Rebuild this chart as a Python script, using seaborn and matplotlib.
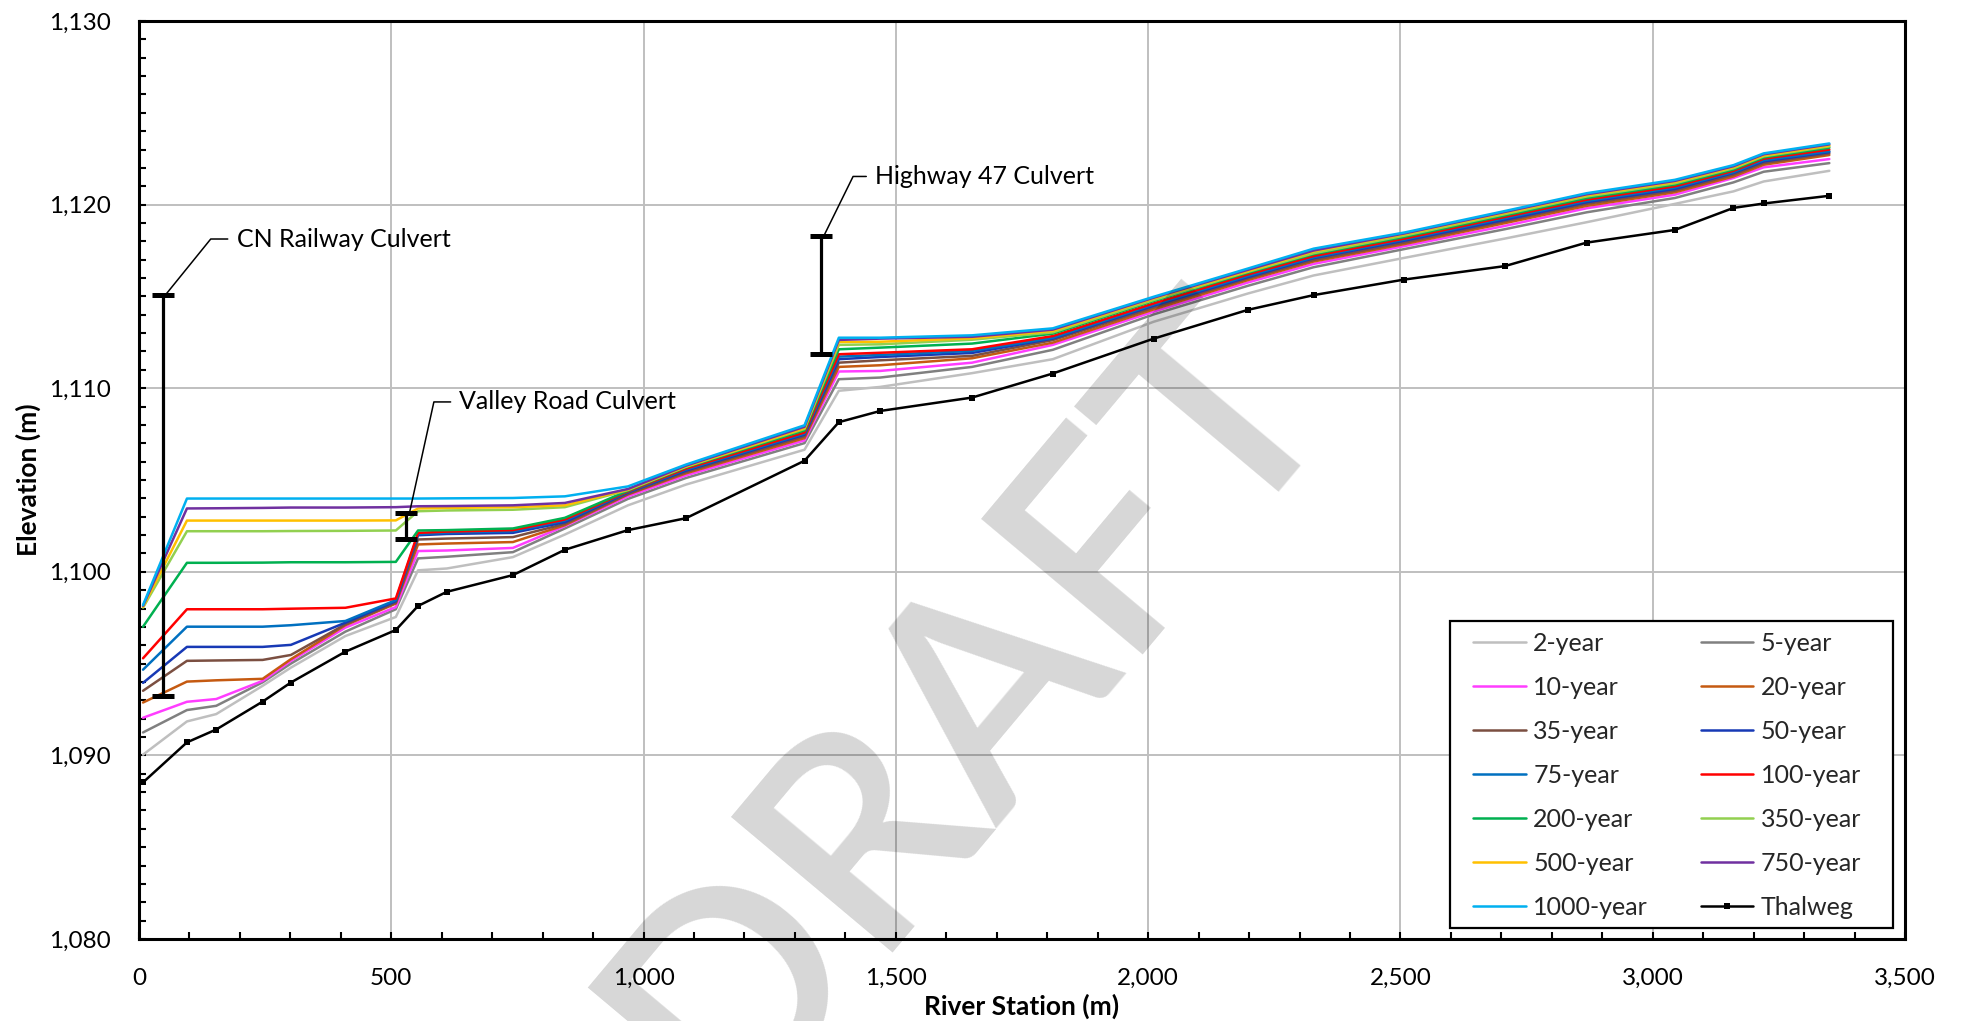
import numpy as np
import pandas as pd
import matplotlib
matplotlib.use("Agg")
import matplotlib.pyplot as plt
from matplotlib.ticker import MultipleLocator, FuncFormatter
from matplotlib.lines import Line2D
from matplotlib.patches import Rectangle
from matplotlib.transforms import IdentityTransform
import seaborn as sns

# River stations (m) of the computed cross sections
stations = [8, 95, 153, 245, 301, 409, 509, 553, 610, 741, 844, 969, 1084, 1319,
            1387, 1469, 1651, 1811, 2011, 2198, 2328, 2508, 2707, 2869, 3044, 3160, 3220, 3350]

# Water surface elevations (m) for each return period
wse_2 = [1090.04, 1091.85, 1092.25, 1093.79, 1094.78, 1096.50, 1097.54, 1100.08, 1100.18, 1100.80,
         1102.03, 1103.62, 1104.75, 1106.65, 1109.86, 1110.07, 1110.82, 1111.58, 1113.62, 1115.16,
         1116.14, 1117.10, 1118.15, 1119.04, 1120.04, 1120.72, 1121.26, 1121.84]
wse_5 = [1091.25, 1092.47, 1092.70, 1093.98, 1095.00, 1096.74, 1097.96, 1100.73, 1100.82, 1101.07,
         1102.36, 1103.97, 1105.11, 1107.01, 1110.49, 1110.58, 1111.16, 1112.09, 1114.02, 1115.58,
         1116.59, 1117.58, 1118.66, 1119.58, 1120.36, 1121.21, 1121.79, 1122.26]
wse_10 = [1092.05, 1092.92, 1093.07, 1094.06, 1095.15, 1096.96, 1098.08, 1101.13, 1101.16, 1101.30,
          1102.49, 1104.11, 1105.25, 1107.16, 1110.91, 1110.94, 1111.39, 1112.36, 1114.17, 1115.76,
          1116.77, 1117.74, 1118.84, 1119.80, 1120.54, 1121.45, 1122.03, 1122.48]
wse_20 = [1092.88, 1094.02, 1094.09, 1094.17, 1095.24, 1097.09, 1098.27, 1101.49, 1101.54, 1101.62,
          1102.54, 1104.21, 1105.36, 1107.28, 1111.16, 1111.25, 1111.63, 1112.48, 1114.29, 1115.89,
          1116.90, 1117.85, 1118.99, 1119.93, 1120.67, 1121.53, 1122.17, 1122.70]
wse_35 = [1093.52, 1095.15, 1095.17, 1095.20, 1095.47, 1097.14, 1098.32, 1101.76, 1101.81, 1101.89,
          1102.61, 1104.24, 1105.43, 1107.38, 1111.39, 1111.52, 1111.76, 1112.62, 1114.39, 1115.98,
          1116.98, 1117.93, 1119.09, 1120.04, 1120.76, 1121.63, 1122.26, 1122.79]
wse_50 = [1093.95, 1095.91, 1095.91, 1095.91, 1096.02, 1097.23, 1098.40, 1101.99, 1102.06, 1102.12,
          1102.70, 1104.32, 1105.51, 1107.47, 1111.58, 1111.70, 1111.92, 1112.70, 1114.49, 1116.05,
          1117.08, 1118.03, 1119.17, 1120.13, 1120.85, 1121.72, 1122.35, 1122.86]
wse_75 = [1094.67, 1097.01, 1097.01, 1097.01, 1097.09, 1097.32, 1098.46, 1102.05, 1102.14, 1102.21,
          1102.79, 1104.35, 1105.57, 1107.53, 1111.72, 1111.81, 1112.03, 1112.75, 1114.56, 1116.12,
          1117.13, 1118.10, 1119.26, 1120.20, 1120.93, 1121.77, 1122.42, 1122.91]
wse_100 = [1095.29, 1097.96, 1097.96, 1097.96, 1097.99, 1098.04, 1098.55, 1102.12, 1102.19, 1102.27,
           1102.85, 1104.38, 1105.62, 1107.59, 1111.85, 1111.93, 1112.12, 1112.84, 1114.62, 1116.20,
           1117.20, 1118.15, 1119.33, 1120.27, 1121.00, 1121.84, 1122.50, 1123.00]
wse_200 = [1097.01, 1100.49, 1100.49, 1100.50, 1100.52, 1100.52, 1100.54, 1102.25, 1102.27, 1102.36,
           1102.94, 1104.42, 1105.69, 1107.70, 1112.12, 1112.21, 1112.43, 1112.97, 1114.75, 1116.29,
           1117.30, 1118.24, 1119.41, 1120.36, 1121.09, 1121.91, 1122.57, 1123.10]
wse_350 = [1098.05, 1102.21, 1102.21, 1102.21, 1102.22, 1102.23, 1102.25, 1103.30, 1103.34, 1103.38,
           1103.52, 1104.45, 1105.72, 1107.78, 1112.36, 1112.39, 1112.64, 1113.04, 1114.80, 1116.34,
           1117.35, 1118.31, 1119.48, 1120.44, 1121.16, 1121.98, 1122.63, 1123.17]
wse_500 = [1098.10, 1102.79, 1102.79, 1102.79, 1102.79, 1102.79, 1102.80, 1103.45, 1103.48, 1103.52,
           1103.62, 1104.48, 1105.74, 1107.83, 1112.52, 1112.53, 1112.72, 1113.12, 1114.89, 1116.39,
           1117.45, 1118.39, 1119.55, 1120.51, 1121.23, 1122.04, 1122.68, 1123.22]
wse_750 = [1098.15, 1103.45, 1103.46, 1103.48, 1103.50, 1103.50, 1103.52, 1103.57, 1103.58, 1103.62,
           1103.75, 1104.51, 1105.78, 1107.90, 1112.63, 1112.70, 1112.80, 1113.19, 1114.93, 1116.45,
           1117.50, 1118.43, 1119.60, 1120.56, 1121.29, 1122.09, 1122.74, 1123.28]
wse_1000 = [1098.19, 1103.99, 1103.99, 1103.99, 1103.99, 1103.99, 1103.99, 1103.99, 1104.00, 1104.02,
            1104.11, 1104.65, 1105.84, 1107.98, 1112.75, 1112.75, 1112.88, 1113.26, 1114.98, 1116.52,
            1117.60, 1118.48, 1119.65, 1120.62, 1121.35, 1122.15, 1122.79, 1123.33]

# Channel bed (thalweg) elevation (m)
thalweg = [1088.53, 1090.71, 1091.41, 1092.93, 1093.97, 1095.65, 1096.83, 1098.14, 1098.91, 1099.82,
           1101.20, 1102.27, 1102.92, 1106.05, 1108.15, 1108.76, 1109.49, 1110.80, 1112.70, 1114.27,
           1115.07, 1115.92, 1116.65, 1117.93, 1118.62, 1119.82, 1120.06, 1120.48]

events = ["2-year", "5-year", "10-year", "20-year", "35-year", "50-year", "75-year",
          "100-year", "200-year", "350-year", "500-year", "750-year", "1000-year"]
profiles = [wse_2, wse_5, wse_10, wse_20, wse_35, wse_50, wse_75,
            wse_100, wse_200, wse_350, wse_500, wse_750, wse_1000]
colors = ["#bfbfbf", "#808080", "#ff3dff", "#c55a11", "#7b4f41", "#1739b5", "#0070c0",
          "#ff0000", "#00b050", "#92d050", "#ffc000", "#7030a0", "#00b0f0"]

# Culvert crossings: station, invert and obvert elevations
culvert_names = ["CN Railway Culvert", "Valley Road Culvert", "Highway 47 Culvert"]
culvert_station = [47, 530, 1351]
culvert_bottom = [1093.25, 1101.80, 1111.85]
culvert_top = [1115.10, 1103.20, 1118.28]

FONT = ["Lato", "DejaVu Sans"]
sns.set_theme(style="white")
plt.rcParams["font.family"] = FONT

W, H = 1963, 1021
fig, ax = plt.subplots(figsize=(W / 100, H / 100), dpi=100)
fig.subplots_adjust(left=139 / W, right=1905 / W, bottom=1 - 939 / H, top=1 - 21 / H)

long = pd.DataFrame(
    [(ev, s, e) for ev, vals in zip(events, profiles) for s, e in zip(stations, vals)],
    columns=["event", "station", "elev"],
)
sns.lineplot(data=long, x="station", y="elev", hue="event", hue_order=events,
             palette=dict(zip(events, colors)), sort=False, estimator=None,
             linewidth=1.8, legend=False, ax=ax, zorder=3)

bed = pd.DataFrame({"station": stations, "elev": thalweg})
sns.lineplot(data=bed, x="station", y="elev", color="black", sort=False, estimator=None,
             linewidth=1.8, marker="s", markersize=4.5, markeredgewidth=0,
             legend=False, ax=ax, zorder=4)

# Culvert openings with leader-line labels
offsets = [(51, 40), (36, 80), (37, 43)]
angles = [51, 77.6, 63.8]
for name, xs, lo, hi, off, ang in zip(culvert_names, culvert_station, culvert_bottom,
                                      culvert_top, offsets, angles):
    mid = (lo + hi) / 2
    ax.errorbar([xs], [mid], yerr=[[mid - lo], [hi - mid]], fmt="none", ecolor="black",
                elinewidth=2.3, capsize=8, capthick=3.6, zorder=6)
    ax.annotate(name, xy=(xs + 6, hi), xycoords="data", xytext=off,
                textcoords="offset points", ha="left", va="center", fontsize=18,
                color="black", zorder=7,
                arrowprops=dict(arrowstyle="-", color="black", lw=1.1, shrinkA=4,
                                shrinkB=0, relpos=(0, 0.5),
                                connectionstyle=f"angle,angleA=180,angleB={ang},rad=0"))

ax.set_xlim(0, 3500)
ax.set_ylim(1080, 1130)
ax.xaxis.set_major_locator(MultipleLocator(500))
ax.xaxis.set_minor_locator(MultipleLocator(100))
ax.yaxis.set_major_locator(MultipleLocator(10))
ax.yaxis.set_minor_locator(MultipleLocator(1))
fmt = FuncFormatter(lambda v, p: f"{v:,.0f}")
ax.xaxis.set_major_formatter(fmt)
ax.yaxis.set_major_formatter(fmt)
ax.tick_params(which="both", direction="in", length=5, width=1.5, color="black",
               left=True, bottom=True, right=False, top=False)
ax.tick_params(axis="y", which="major", labelsize=17.5, pad=20, labelcolor="black")
ax.tick_params(axis="x", which="major", labelsize=17.5, pad=21, labelcolor="black")

ax.grid(True, which="major", color="#bfbfbf", linewidth=1.4)
ax.set_axisbelow(True)
for sp in ax.spines.values():
    sp.set_color("black")
    sp.set_linewidth(2.2)
    sp.set_visible(True)

ax.set_xlabel("River Station (m)", fontsize=19, fontweight="bold", labelpad=3, color="black")
ax.set_ylabel("Elevation (m)", fontsize=19, fontweight="bold", labelpad=6, color="black")

# Legend laid out row by row in two columns
handles = [Line2D([], [], color=c, lw=1.8) for c in colors]
handles.append(Line2D([], [], color="black", lw=1.8, marker="s", markersize=4.5,
                      markeredgewidth=0))
labels = events + ["Thalweg"]
order = list(range(0, 14, 2)) + list(range(1, 14, 2))
ax_w, ax_h = 1905 - 139, 939 - 21
leg = ax.legend([handles[i] for i in order], [labels[i] for i in order], ncol=2,
                loc="lower right",
                bbox_to_anchor=((1893 - 32 - 139) / ax_w, (939 - 928 + 9) / ax_h),
                borderaxespad=0, borderpad=0, frameon=False,
                fontsize=18, handlelength=2.1, handletextpad=0.3, columnspacing=2.1,
                labelspacing=0.84)
leg.set_zorder(9)

# Legend box drawn around the entries with wider side margins
fig.canvas.draw()
bb = leg.get_window_extent()
box = Rectangle((bb.x0 - 23, bb.y0 - 9), bb.width + 23 + 32, bb.height + 20,
                transform=IdentityTransform(), facecolor="white", edgecolor="black",
                linewidth=1.6, zorder=8, clip_on=False)
ax.add_patch(box)

# Watermark
fig.text(968 / W, 1 - 704 / H, "DRAFT", rotation=50, rotation_mode="anchor",
         ha="center", va="center", fontsize=212, fontweight=600, color="black",
         alpha=0.16, zorder=20)

fig.savefig("out.png", dpi=100)
